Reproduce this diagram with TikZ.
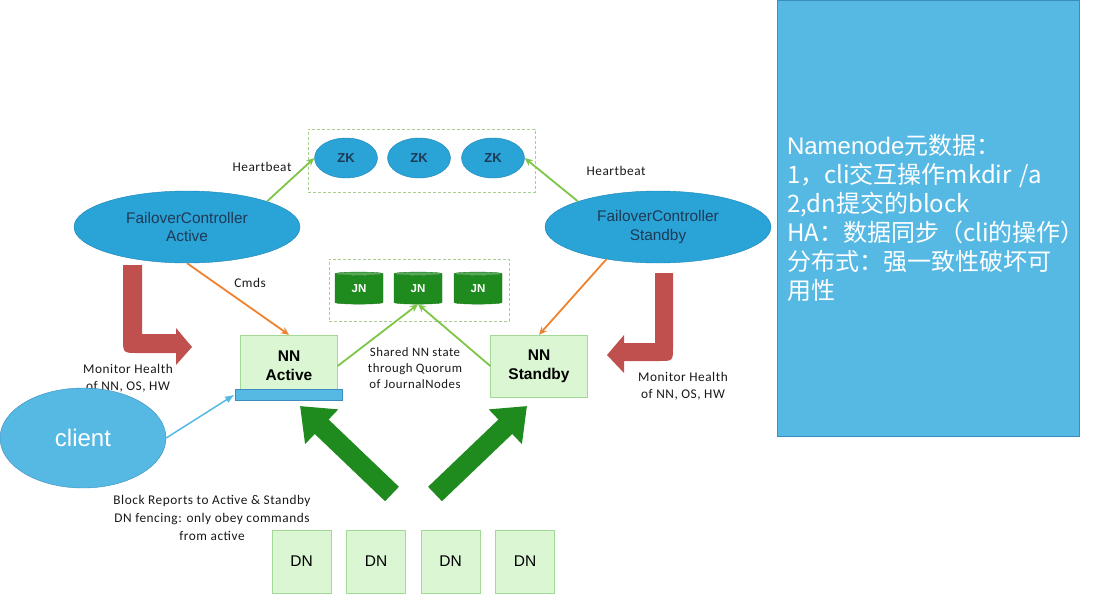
\documentclass[tikz,border=0pt]{standalone}
\usepackage{fontspec}
\setmainfont{Liberation Sans}
\newfontfamily\cjk{Noto Sans CJK SC}
\newfontfamily\notefont[LetterSpace=4]{Carlito}
\usetikzlibrary{arrows.meta,shapes.geometric,positioning}
\definecolor{zkblue}{HTML}{2AA3D7}
\definecolor{zkedge}{HTML}{1C84B6}
\definecolor{skyblue}{HTML}{56B9E4}
\definecolor{skyedge}{HTML}{3A8DBE}
\definecolor{nnfill}{HTML}{DAF6D2}
\definecolor{nnedge}{HTML}{A3D996}
\definecolor{jngreen}{HTML}{1F8B1F}
\definecolor{linkgreen}{HTML}{7DC646}
\definecolor{cmdorange}{HTML}{F0812D}
\definecolor{healthred}{HTML}{C0504D}
\definecolor{textnavy}{HTML}{1E3A56}
\definecolor{groupedge}{HTML}{A9CF8E}

\begin{document}
\begin{tikzpicture}[x=1pt,y=-1pt,>=Latex,
    zk/.style={ellipse,draw=zkedge,fill=zkblue,minimum width=63pt,
      minimum height=40pt,inner sep=0pt,text=textnavy,
      font=\bfseries\fontsize{13}{14}\selectfont},
    controller/.style={ellipse,draw=zkedge,fill=zkblue,minimum width=226pt,
      minimum height=72pt,inner sep=0pt,align=center,text=textnavy,
      font=\fontsize{15.4}{18.5}\selectfont},
    journal/.style={cylinder,shape border rotate=90,aspect=0.22,
      minimum width=48pt,minimum height=32pt,inner sep=0pt,
      cylinder uses custom fill,cylinder body fill=jngreen,
      cylinder end fill=jngreen!75!white,draw=jngreen!85!black,text=white,
      font=\bfseries\fontsize{11.5}{13}\selectfont},
    namenode/.style={draw=nnedge,fill=nnfill,minimum width=97pt,
      minimum height=62pt,inner sep=0pt,align=center,
      font=\bfseries\fontsize{15.5}{19}\selectfont},
    datanode/.style={draw=nnedge,fill=nnfill,minimum width=59pt,
      minimum height=63pt,inner sep=0pt,font=\fontsize{15.5}{18}\selectfont},
    groupbox/.style={draw=groupedge,densely dashed,inner sep=0pt},
    note/.style={font=\notefont\fontsize{13.3}{17}\selectfont,align=center,
      text=black!90},
    link/.style={draw=linkgreen,line width=1.8pt,
      -{Stealth[length=8pt,width=7pt]}},
    cmd/.style={draw=cmdorange,line width=1.8pt,
      -{Stealth[length=8pt,width=7pt]}},
    report/.style={draw=jngreen,line width=20pt,
      -{Triangle[length=30pt,width=46pt]}}]

  \useasboundingbox (0,0) rectangle (1097,600);

  \node[groupbox,minimum width=227pt,minimum height=63pt] (zkgroup)
    at (421.5,160.5) {};
  \foreach \i/\x in {1/346,2/419,3/493}
    \node[zk] (zk\i) at (\x,158) {ZK};

  \node[controller] (fcactive) at (187,227) {FailoverController\\Active};
  \node[controller] (fcstandby) at (658,227) {FailoverController\\Standby};
  \draw[link] (fcactive.north east) -- (zk1.west);
  \draw[link] (fcstandby.north west) -- (zk3.east);
  \node[note] (hbactive) at (262,167) {Heartbeat};
  \node[note] (hbstandby) at (616,171) {Heartbeat};

  \node[groupbox,minimum width=180pt,minimum height=62pt] (jngroup)
    at (419,290) {};
  \foreach \i/\x in {1/359,2/418,3/478}
    \node[journal] (jn\i) at (\x,289) {JN};

  \node[namenode] (nnactive) at (289,366) {NN\\Active};
  \node[namenode] (nnstandby) at (539,366) {NN\\Standby};
  \node[draw=skyedge,fill=skyblue,minimum width=107pt,minimum height=11pt,
    inner sep=0pt] (clientbar) at (288.5,394.5) {};

  \draw[cmd] (fcactive.south) -- (nnactive.north);
  \draw[cmd] (fcstandby.212) -- (nnstandby.north);
  \node[note] (cmds) at (250,283) {Cmds};

  \draw[link] (nnactive.east) -- (jn2.south);
  \draw[link] (nnstandby.west) -- (jn2.south);
  \node[note,font=\notefont\fontsize{12.8}{16}\selectfont] (shared)
    at (415,368) {Shared NN state\\through Quorum\\of JournalNodes};

  \fill[healthred] (142,265) -- (142,334) -- (176,334) -- (176,328)
    -- (192,347) -- (176,365) -- (176,353) -- (138,353)
    .. controls (123,353) .. (123,338) -- (123,265) -- cycle;
  \fill[healthred] (655,273) -- (655,343) -- (624,343) -- (624,335)
    -- (607,355) -- (624,373) -- (624,361) -- (659,361)
    .. controls (673,361) .. (673,347) -- (673,273) -- cycle;
  \node[note] (healthactive) at (128,378) {Monitor Health\\of NN, OS, HW};
  \node[note] (healthstandby) at (683,386) {Monitor Health\\of NN, OS, HW};

  \node[ellipse,draw=skyedge,fill=skyblue,minimum width=166pt,
    minimum height=100pt,inner sep=0pt,text=white,
    font=\fontsize{24}{28}\selectfont] (client) at (83,438) {client};
  \draw[->,skyblue,line width=1.5pt] (client.east) -- (clientbar.west);

  \foreach \i in {1,...,4}
    \node[datanode] (dn\i) at ({227+74.5*\i},561.5) {DN};
  \coordinate (reporttailA) at (392,494);
  \coordinate (reporttailB) at (435,494);
  \coordinate (reporttipA) at (300,406);
  \coordinate (reporttipB) at (527,406);
  \draw[report] (reporttailA) -- (reporttipA);
  \draw[report] (reporttailB) -- (reporttipB);
  \node[note,font=\notefont\fontsize{13.3}{18}\selectfont] (blockreports)
    at (212,518)
    {Block Reports to Active \& Standby\\DN fencing: only obey commands\\from active};

  \node[draw=skyedge,fill=skyblue,minimum width=302pt,minimum height=436pt,
    text width=282pt,inner xsep=10pt,align=left,text=white,
    font=\fontsize{24}{29}\selectfont] (metadata) at (928,218)
    {Namenode\cjk{元数据：}\\
     1\cjk{，}cli\cjk{交互操作}mkdir /a\\
     2,dn\cjk{提交的}block\\
     HA\cjk{：数据同步（}cli\cjk{的操作）}\\
     \cjk{分布式：强一致性破坏可}\\
     \cjk{用性}};
\end{tikzpicture}
\end{document}
